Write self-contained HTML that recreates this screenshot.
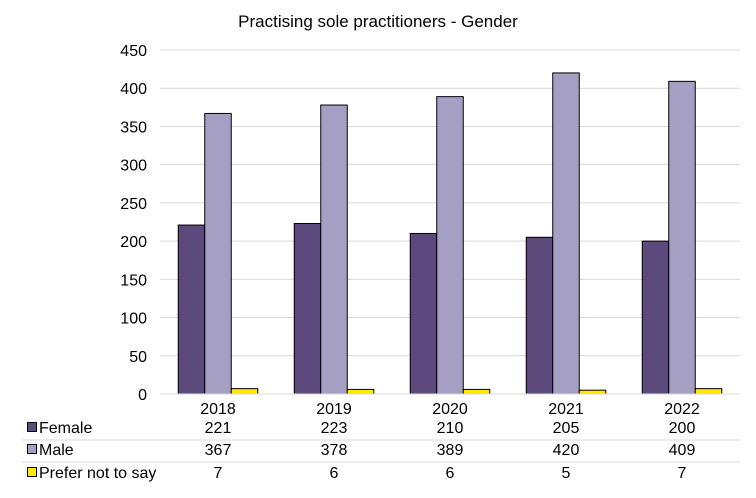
<!DOCTYPE html>
<html><head><meta charset="utf-8"><style>
body{margin:0;background:#fff;}
svg text{font-family:"Liberation Sans",Arial,sans-serif;fill:#000;}
</style></head><body>
<svg id="chart" width="756" height="493" xmlns="http://www.w3.org/2000/svg">
<text x="378" y="27" font-size="17" text-anchor="middle">Practising sole practitioners - Gender</text>
<g id="grid"></g><g id="bars"></g><g id="table"></g>
</svg>
<script>
const categories=["2018","2019","2020","2021","2022"];
const female=[221,223,210,205,200];
const male=[367,378,389,420,409];
const preferNot=[7,6,6,5,7];
const yTicks=[0,50,100,150,200,250,300,350,400,450];
const seriesNames=["Female","Male","Prefer not to say"];
const colors=["#5c4a7d","#a59fc4","#ffe800"];
const NS="http://www.w3.org/2000/svg";
const x0=160,x1=740,yBase=394,yTop=50,yMax=450;
const y=v=>yBase-(v/yMax)*(yBase-yTop);
const band=(x1-x0)/categories.length;
const cx=i=>x0+band*(i+0.5);
function mk(tag,attrs,parent){const e=document.createElementNS(NS,tag);for(const k in attrs)e.setAttribute(k,attrs[k]);parent.appendChild(e);return e;}
const grid=document.getElementById('grid'),bars=document.getElementById('bars'),table=document.getElementById('table');
yTicks.forEach(t=>{
 const l=mk('line',{x1:x0,x2:x1,y1:y(t),y2:y(t),stroke:'#d9d9d9','stroke-width':1},grid);
 
 
 const tx=mk('text',{x:147,y:y(t)+6,'font-size':16,'text-anchor':'end'},grid);tx.textContent=t;
 
 
});
const series=[female,male,preferNot];
const bw=26.5;
categories.forEach((c,i)=>{
 series.forEach((s,j)=>{
  const bx=cx(i)-bw*1.5+j*bw;
  const r=mk('rect',{x:bx,y:y(s[i]),width:bw,height:yBase-y(s[i]),fill:colors[j],stroke:'#000','stroke-width':1},bars);
  
  
 });
 const t=mk('text',{x:cx(i),y:414,'font-size':16,'text-anchor':'middle'},table);t.textContent=c;
 
 
});
const ax=mk('line',{x1:x0,x2:x1,y1:yBase,y2:yBase,stroke:'#d9d9d9','stroke-width':1},bars);


const rowY=[433,455,478];
[440,462].forEach(ly=>{
 const l=mk('line',{x1:22,x2:x1,y1:ly,y2:ly,stroke:'#d9d9d9','stroke-width':1},table);
 
 
});
series.forEach((s,j)=>{
 const k=mk('rect',{x:27.5,y:rowY[j]-10.5,width:9,height:9,fill:colors[j],stroke:'#000','stroke-width':1},table);
 
 
 const n=mk('text',{x:39,y:rowY[j],'font-size':16},table);n.textContent=seriesNames[j];
 
 
 s.forEach((v,i)=>{
  const t=mk('text',{x:cx(i),y:rowY[j],'font-size':16,'text-anchor':'middle'},table);t.textContent=v;
  
  
 });
});
</script>
</body></html>
